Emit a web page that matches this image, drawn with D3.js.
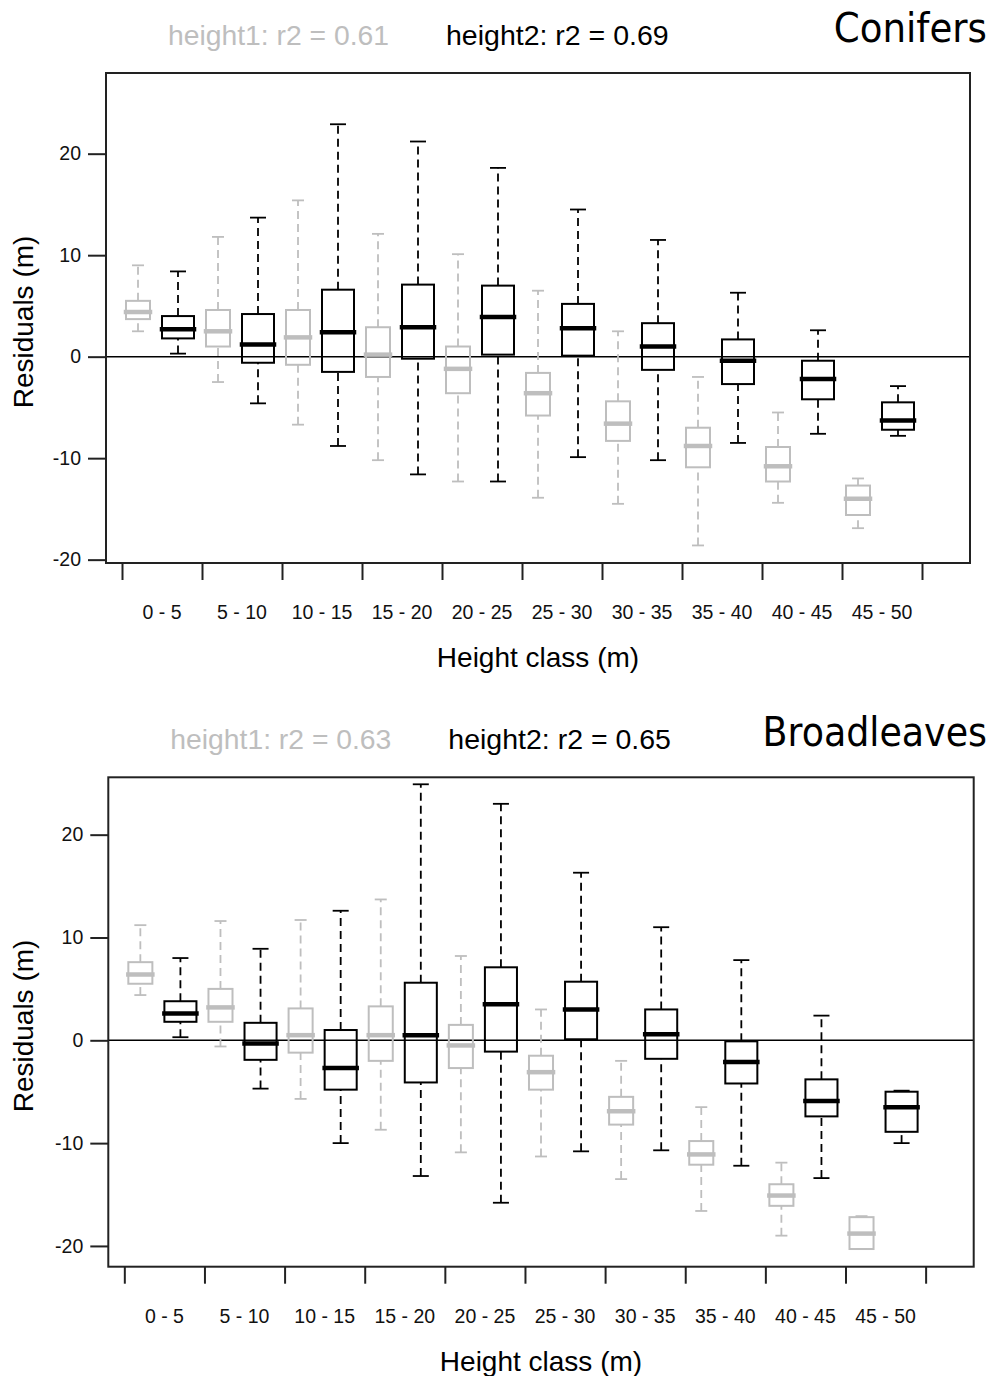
<!DOCTYPE html>
<html>
  <head>
    <meta charset="UTF-8" />
    <title>Residuals by height class</title>
    <style>
      body,
      html {
        margin: 0;
        padding: 0;
        background: #fff;
        overflow: hidden;
      }
      svg {
        display: block;
      }
      text {
        font-family: "Liberation Sans", Arial, Helvetica, sans-serif;
      }
      .panel-name {
        font-family: "DejaVu Sans", Verdana, sans-serif;
      }
    </style>
  </head>
  <body>
    <svg id="chart"></svg>
    <script src="https://d3js.org/d3.v7.min.js"></script>
    <script>
      // height classes (x axis)
      const classes = ["0 - 5", "5 - 10", "10 - 15", "15 - 20", "20 - 25",
        "25 - 30", "30 - 35", "35 - 40", "40 - 45", "45 - 50"];
      const yTicks = [-20, -10, 0, 10, 20];

      // box stats per class: [lower whisker, Q1, median, Q3, upper whisker]
      const coniferH1 = [
        [2.5, 3.7, 4.4, 5.5, 9.0],
        [-2.5, 1.0, 2.5, 4.6, 11.8],
        [-6.7, -0.8, 1.9, 4.6, 15.4],
        [-10.2, -2.0, 0.2, 2.9, 12.1],
        [-12.3, -3.6, -1.2, 1.0, 10.1],
        [-13.9, -5.8, -3.6, -1.6, 6.5],
        [-14.5, -8.3, -6.6, -4.4, 2.5],
        [-18.6, -10.9, -8.8, -7.0, -2.0],
        [-14.4, -12.3, -10.8, -8.9, -5.5],
        [-16.9, -15.6, -14.0, -12.7, -12.0],
      ];
      const coniferH2 = [
        [0.3, 1.8, 2.7, 4.0, 8.4],
        [-4.6, -0.6, 1.2, 4.2, 13.7],
        [-8.8, -1.5, 2.4, 6.6, 22.9],
        [-11.6, -0.2, 2.9, 7.1, 21.2],
        [-12.3, 0.2, 3.9, 7.0, 18.6],
        [-9.9, 0.1, 2.8, 5.2, 14.5],
        [-10.2, -1.3, 1.0, 3.3, 11.5],
        [-8.5, -2.7, -0.4, 1.7, 6.3],
        [-7.6, -4.2, -2.2, -0.4, 2.6],
        [-7.8, -7.2, -6.3, -4.5, -2.9],
      ];
      const broadleafH1 = [
        [4.4, 5.5, 6.4, 7.6, 11.2],
        [-0.6, 1.8, 3.2, 5.0, 11.6],
        [-5.7, -1.2, 0.5, 3.1, 11.7],
        [-8.7, -2.0, 0.5, 3.3, 13.7],
        [-10.9, -2.7, -0.5, 1.5, 8.2],
        [-11.3, -4.8, -3.1, -1.5, 3.0],
        [-13.5, -8.2, -6.9, -5.5, -2.0],
        [-16.6, -12.1, -11.1, -9.8, -6.5],
        [-19.0, -16.1, -15.1, -14.0, -11.9],
        [-20.3, -20.3, -18.8, -17.2, -17.1],
      ];
      const broadleafH2 = [
        [0.3, 1.8, 2.6, 3.8, 8.0],
        [-4.7, -1.9, -0.3, 1.7, 8.9],
        [-10.0, -4.8, -2.7, 1.0, 12.6],
        [-13.2, -4.1, 0.5, 5.6, 24.9],
        [-15.8, -1.1, 3.5, 7.1, 23.0],
        [-10.8, 0.1, 3.0, 5.7, 16.3],
        [-10.7, -1.8, 0.6, 3.0, 11.0],
        [-12.2, -4.2, -2.1, -0.1, 7.8],
        [-13.4, -7.4, -5.9, -3.8, 2.4],
        [-10.0, -8.9, -6.5, -5.0, -4.9],
      ];
      const coniferR2 = ["0.61", "0.69"];
      const broadleafR2 = ["0.63", "0.65"];

      const width = 995;
      const height = 1376;
      const grey = "#bebebe";

      const svg = d3
        .select("#chart")
        .attr("width", width)
        .attr("height", height);

      const panels = [
        {
          name: "Conifers", nameScale: 0.93, r2: coniferR2, h1: coniferH1, h2: coniferH2,
          left: 106, top: 73, right: 970, bottom: 563, yDomain: [-20.33, 27.95],
        },
        {
          name: "Broadleaves", nameScale: 0.91, r2: broadleafR2, h1: broadleafH1, h2: broadleafH2,
          left: 108.3, top: 777.3, right: 973.7, bottom: 1266.7, yDomain: [-22.02, 25.58],
        },
      ];

      function drawBoxes(g, stats, x, y, offset, boxW, color, thin) {
        const half = (x(boxW) - x(0)) / 2;
        const box = g
          .selectAll(null)
          .data(stats)
          .join("g")
          .attr("transform", (d, i) => `translate(${x(2 * i + offset)},0)`);

        // dashed whiskers
        box
          .append("line")
          .attr("y1", (d) => y(d[0]))
          .attr("y2", (d) => y(d[1]))
          .attr("stroke", color)
          .attr("stroke-width", thin)
          .attr("stroke-dasharray", "8,5");
        box
          .append("line")
          .attr("y1", (d) => y(d[3]))
          .attr("y2", (d) => y(d[4]))
          .attr("stroke", color)
          .attr("stroke-width", thin)
          .attr("stroke-dasharray", "8,5");

        // caps
        [0, 4].forEach((k) => {
          box
            .append("line")
            .attr("x1", -half / 2)
            .attr("x2", half / 2)
            .attr("y1", (d) => y(d[k]))
            .attr("y2", (d) => y(d[k]))
            .attr("stroke", color)
            .attr("stroke-width", thin);
        });

        box
          .append("rect")
          .attr("x", -half)
          .attr("width", 2 * half)
          .attr("y", (d) => y(d[3]))
          .attr("height", (d) => y(d[1]) - y(d[3]))
          .attr("fill", "none")
          .attr("stroke", color)
          .attr("stroke-width", 2);

        box
          .append("line")
          .attr("x1", -half)
          .attr("x2", half)
          .attr("y1", (d) => y(d[2]))
          .attr("y2", (d) => y(d[2]))
          .attr("stroke", color)
          .attr("stroke-width", 4.5)
          .attr("stroke-linecap", "square");
      }

      panels.forEach((p) => {
        const g = svg.append("g");

        const x = d3.scaleLinear().domain([-0.4, 21.2]).range([p.left, p.right]);
        const y = d3.scaleLinear().domain(p.yDomain).range([p.bottom, p.top]);

        // titles
        g.append("text")
          .attr("x", p.left + 62)
          .attr("y", p.top - 28)
          .attr("font-size", 28.3)
          .attr("fill", grey)
          .text(`height1: r2 = ${p.r2[0]}`);
        g.append("text")
          .attr("x", p.left + 340)
          .attr("y", p.top - 28)
          .attr("font-size", 28.5)
          .attr("fill", "#000")
          .text(`height2: r2 = ${p.r2[1]}`);
        g.append("text")
          .attr("class", "panel-name")
          .attr("transform", `translate(987,${p.top - 31}) scale(${p.nameScale},1)`)
          .attr("text-anchor", "end")
          .attr("font-size", 40)
          .text(p.name);

        // zero line
        g.append("line")
          .attr("x1", p.left)
          .attr("x2", p.right)
          .attr("y1", y(0))
          .attr("y2", y(0))
          .attr("stroke", "#000")
          .attr("stroke-width", 1.5);

        drawBoxes(g, p.h1, x, y, 0.4, 0.6, grey, 1.8);
        drawBoxes(g, p.h2, x, y, 1.4, 0.8, "#000", 1.8);

        // frame
        g.append("rect")
          .attr("x", p.left)
          .attr("y", p.top)
          .attr("width", p.right - p.left)
          .attr("height", p.bottom - p.top)
          .attr("fill", "none")
          .attr("stroke", "#222")
          .attr("stroke-width", 2);

        // y axis (plain hyphen minus, as in the original)
        const yAxis = d3
          .axisLeft(y)
          .tickValues(yTicks)
          .tickSize(18)
          .tickPadding(7)
          .tickFormat((d) => String(d));
        const ya = g.append("g").attr("transform", `translate(${p.left},0)`).call(yAxis);
        ya.select(".domain").remove();
        ya.selectAll(".tick line").attr("stroke", "#222").attr("stroke-width", 2);
        ya.selectAll(".tick text")
          .attr("font-size", 19.5)
          .attr("font-family", "Liberation Sans, Arial, sans-serif")
          .attr("fill", "#111");

        // x axis: ticks between classes, labels centred
        const xTicks = d3.range(classes.length + 1).map((i) => 2 * i);
        const xa = g.append("g").attr("transform", `translate(0,${p.bottom})`);
        xa.call(d3.axisBottom(x).tickValues(xTicks).tickSize(17).tickFormat(""));
        xa.select(".domain").remove();
        xa.selectAll(".tick line").attr("stroke", "#222").attr("stroke-width", 2);
        g.selectAll(null)
          .data(classes)
          .join("text")
          .attr("x", (d, i) => x(2 * i + 1))
          .attr("y", p.bottom + 56)
          .attr("text-anchor", "middle")
          .attr("font-size", 19.5)
          .attr("fill", "#111")
          .text((d) => d);

        // axis titles
        g.append("text")
          .attr("x", (p.left + p.right) / 2)
          .attr("y", p.bottom + 104)
          .attr("text-anchor", "middle")
          .attr("font-size", 28)
          .text("Height class (m)");
        g.append("text")
          .attr("transform", `translate(33,${(p.top + p.bottom) / 2 + 4}) rotate(-90)`)
          .attr("text-anchor", "middle")
          .attr("font-size", 28)
          .text("Residuals (m)");
      });
    </script>
  </body>
</html>
